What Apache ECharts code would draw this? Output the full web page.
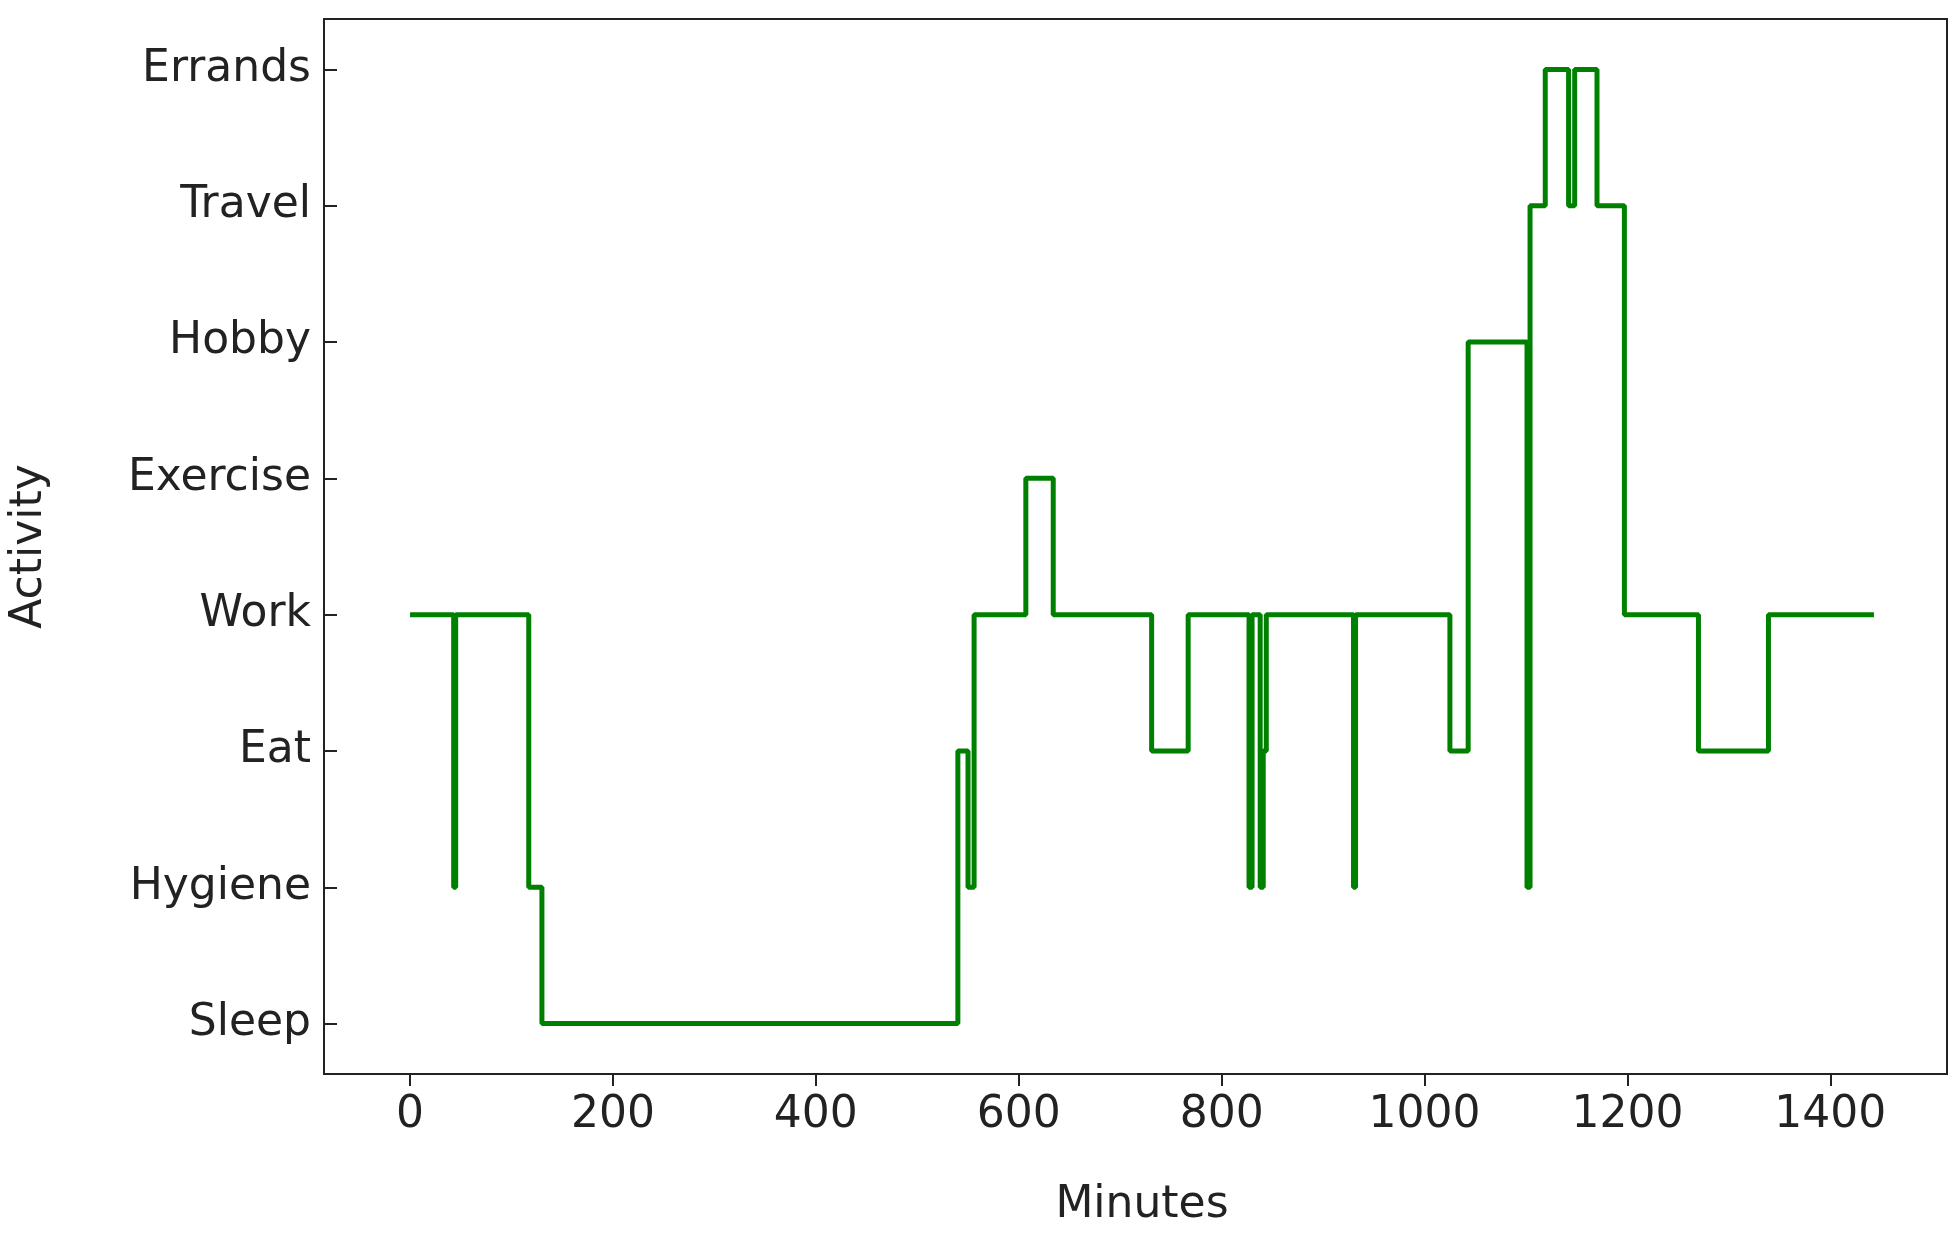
<!DOCTYPE html>
<html>
<head>
<meta charset="utf-8">
<title>activity</title>
<style>
	html, body, #chart { margin: 0; padding: 0; width: 1959px; height: 1241px; background: #fff; }
</style>
<script src="https://cdn.jsdelivr.net/npm/echarts@6/dist/echarts.min.js"></script>
</head>
<body>
<div id="chart"></div>
<script>
var activities = ['Sleep', 'Hygiene', 'Eat', 'Work', 'Exercise', 'Hobby', 'Travel', 'Errands'];
var xTicks = [0, 200, 400, 600, 800, 1000, 1200, 1400];

// minute at which each activity starts
var startMinutes = [0, 43, 45, 117, 130, 540, 550, 556, 607, 634, 731, 767, 827, 830, 838, 841, 844, 930, 932, 1025, 1043, 1101, 1104, 1119, 1142, 1148, 1170, 1197, 1270, 1339, 1443];
var startActivity = ['Work', 'Hygiene', 'Work', 'Hygiene', 'Sleep', 'Eat', 'Hygiene', 'Work', 'Exercise', 'Work', 'Eat', 'Work', 'Hygiene', 'Work', 'Hygiene', 'Eat', 'Work', 'Hygiene', 'Work', 'Eat', 'Hobby', 'Hygiene', 'Travel', 'Errands', 'Travel', 'Errands', 'Travel', 'Work', 'Eat', 'Work', 'Work'];

var points = startMinutes.map(function (m, i) {
	return [m, activities.indexOf(startActivity[i])];
});

var yTicks = activities.map(function (a, i) { return i; });
var font = { fontFamily: 'DejaVu Sans', fontSize: 44, color: '#222' };

var chart = echarts.init(document.getElementById('chart'));
chart.setOption({
	animation: false,
	grid: { left: 324, right: 12, top: 19, bottom: 167 },
	xAxis: {
		type: 'value', min: -72, max: 1515,
		name: 'Minutes', nameLocation: 'middle', nameGap: 110,
		nameTextStyle: font,
		axisLine: { show: false, onZero: false },
		axisTick: { customValues: xTicks, length: 12, lineStyle: { color: '#222', width: 2 } },
		axisLabel: Object.assign({
			customValues: xTicks, margin: 20,
			formatter: function (v) { return String(v); }
		}, font),
		splitLine: { show: false }
	},
	yAxis: {
		type: 'value', min: -0.37, max: 7.37,
		name: 'Activity', nameLocation: 'middle', nameGap: 285,
		nameTextStyle: font,
		axisLine: { show: false, onZero: false },
		axisTick: { show: true, customValues: yTicks, length: 12, lineStyle: { color: '#222', width: 2 } },
		axisLabel: Object.assign({
			customValues: yTicks, margin: 26,
			formatter: function (v) { return activities[Math.round(v)]; }
		}, font),
		splitLine: { show: false }
	},
	series: [{
		type: 'line',
		step: 'end',
		data: points,
		symbol: 'none',
		lineStyle: { color: '#008000', width: 5 }
	}],
	graphic: [{
		type: 'rect',
		shape: { x: 324, y: 19, width: 1959 - 12 - 324, height: 1241 - 167 - 19 },
		style: { fill: 'none', stroke: '#222', lineWidth: 2 },
		silent: true
	}]
});
</script>
</body>
</html>
